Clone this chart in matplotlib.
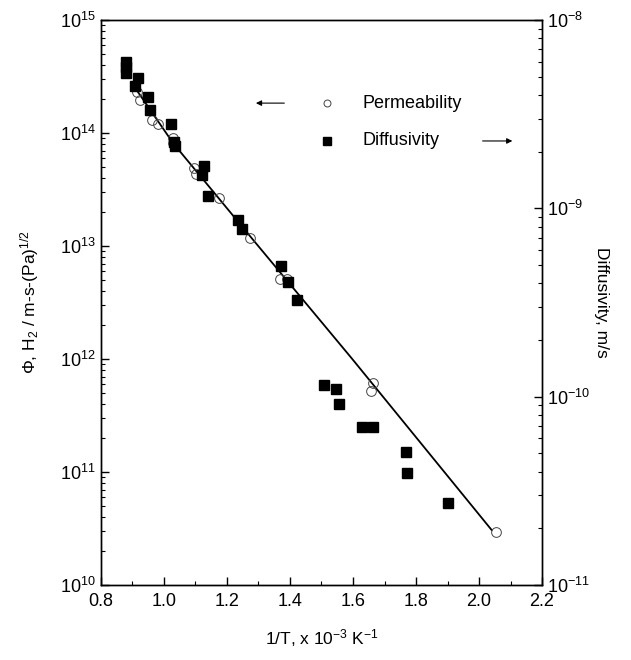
import matplotlib
matplotlib.use("Agg")
import matplotlib.pyplot as plt
from matplotlib.ticker import LogLocator, MultipleLocator, NullFormatter, FixedLocator

plt.rcParams['font.family'] = ['Liberation Sans', 'DejaVu Sans']
plt.rcParams['mathtext.fontset'] = 'custom'
plt.rcParams['mathtext.rm'] = 'Liberation Sans'
plt.rcParams['mathtext.it'] = 'Liberation Sans:italic'
plt.rcParams['axes.unicode_minus'] = False

# Permeability (left axis)
perm_x = [0.914, 0.924, 0.962, 0.981, 1.029, 1.029, 1.095, 1.102, 1.175,
          1.273, 1.368, 1.390, 1.663, 1.657, 2.054]
perm_log = [14.363, 14.292, 14.115, 14.080, 13.956, 13.912, 13.690, 13.637,
            13.425, 13.071, 12.708, 12.708, 11.788, 11.717, 10.469]
perm_y = [10 ** v for v in perm_log]

# Diffusivity (right axis)
diff_x = [0.881, 0.881, 0.881, 0.917, 0.908, 0.949, 0.956, 1.022, 1.032,
          1.035, 1.127, 1.121, 1.139, 1.235, 1.248, 1.371, 1.394, 1.422,
          1.508, 1.546, 1.556, 1.630, 1.662, 1.767, 1.770, 1.903]
diff_log = [-8.223, -8.250, -8.282, -8.308, -8.350, -8.409, -8.478, -8.552,
            -8.648, -8.669, -8.775, -8.823, -8.934, -9.062, -9.110, -9.306,
            -9.391, -9.487, -9.938, -9.960, -10.040, -10.161, -10.161,
            -10.294, -10.406, -10.565]
diff_y = [10 ** v for v in diff_log]

# Fit line (left axis)
fit_x = [0.913, 1.0295, 1.2835, 1.596, 2.040]
fit_log = [14.381, 13.909, 13.053, 12.006, 10.487]
fit_y = [10 ** v for v in fit_log]

xticks = [0.8, 1.0, 1.2, 1.4, 1.6, 1.8, 2.0, 2.2]

fig = plt.figure(figsize=(6.31, 6.60), dpi=100)
ax = fig.add_axes([0.160, 0.1136, 0.699, 0.856])
ax2 = ax.twinx()

ax.plot(fit_x, fit_y, color='black', lw=1.3, zorder=2)
ax.plot(perm_x, perm_y, linestyle='none', marker='o', ms=7, mfc='none',
        mec='#444444', mew=0.7, zorder=3)
ax2.plot(diff_x, diff_y, linestyle='none', marker='s', ms=6.5, mfc='black',
         mec='black', zorder=3)

ax.set_xlim(0.8, 2.2)
ax.set_yscale('log')
ax.set_ylim(1e10, 1e15)
ax2.set_yscale('log')
ax2.set_ylim(1e-11, 1e-8)

ax.xaxis.set_major_locator(FixedLocator(xticks))
ax.set_xticklabels(['%.1f' % v for v in xticks])
ax.xaxis.set_minor_locator(MultipleLocator(0.1))

for a in (ax, ax2):
    a.yaxis.set_major_locator(LogLocator(base=10, numticks=20))
    a.yaxis.set_minor_locator(LogLocator(base=10, subs=range(2, 10), numticks=20))
    a.yaxis.set_minor_formatter(NullFormatter())

ax.tick_params(axis='both', which='major', direction='in', length=6, width=1,
               labelsize=13, top=False, right=False)
ax.tick_params(axis='both', which='minor', direction='in', length=3, width=0.8,
               top=False, right=False)
ax.tick_params(axis='x', pad=6)
ax2.tick_params(axis='y', which='major', direction='in', length=6, width=1,
                labelsize=13)
ax2.tick_params(axis='y', which='minor', direction='in', length=3, width=0.8)

for a in (ax, ax2):
    for s in a.spines.values():
        s.set_linewidth(1.0)

ax.set_xlabel(r'1/T, x 10$^{-3}$ K$^{-1}$', fontsize=12.5, labelpad=12)
ax.set_ylabel(r'Φ, H$_2$ / m-s-(Pa)$^{1/2}$', fontsize=12.5, labelpad=14)
ax2.set_ylabel('Diffusivity, m/s', fontsize=12.5, rotation=270, labelpad=14)

# Legend-like annotation
ax.plot([0.512], [0.853], transform=ax.transAxes, marker='o', ms=5,
        mfc='none', mec='#444444', mew=0.7, linestyle='none', clip_on=False)
ax.plot([0.512], [0.786], transform=ax.transAxes, marker='s', ms=5.5,
        mfc='black', mec='black', linestyle='none', clip_on=False)
ax.text(0.594, 0.853, 'Permeability', transform=ax.transAxes, fontsize=13,
        va='center', ha='left')
ax.text(0.594, 0.786, 'Diffusivity', transform=ax.transAxes, fontsize=13,
        va='center', ha='left')
ax.annotate('', xy=(0.345, 0.853), xytext=(0.422, 0.853),
            xycoords='axes fraction', textcoords='axes fraction',
            arrowprops=dict(arrowstyle='-|>', color='black', lw=0.8,
                            mutation_scale=8))
ax.annotate('', xy=(0.939, 0.786), xytext=(0.859, 0.786),
            xycoords='axes fraction', textcoords='axes fraction',
            arrowprops=dict(arrowstyle='-|>', color='black', lw=0.8,
                            mutation_scale=8))

fig.savefig('out.png', dpi=100)
